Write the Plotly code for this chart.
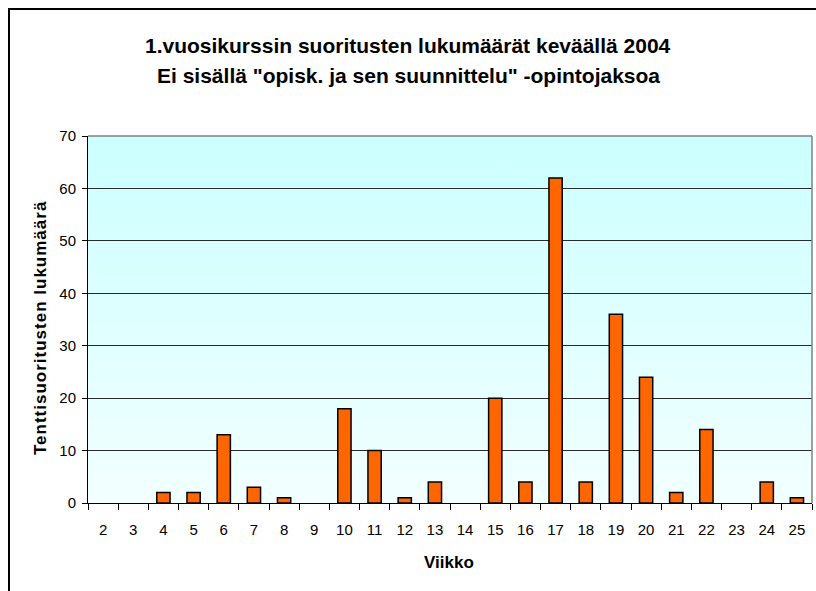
import base64
import plotly.graph_objects as go

weeks = [str(w) for w in range(2, 26)]
counts = [0, 0, 2, 2, 13, 3, 1, 0, 18, 10, 1, 4, 0, 20, 4, 62, 4, 36, 24, 2, 14, 0, 4, 1]
y_ticks = [0, 10, 20, 30, 40, 50, 60, 70]

title_line1 = "1.vuosikurssin suoritusten lukumäärät keväällä 2004"
title_line2 = "Ei sisällä \"opisk. ja sen suunnittelu\" -opintojaksoa"
x_title = "Viikko"
y_title = "Tenttisuoritusten lukumäärä"

W, H = 816, 591
L, R, T, B = 88, 4, 136, 88
pw, ph = W - L - R, H - T - B

def px_to_paper_x(px):
    return (px - L) / pw

def px_to_paper_y(py):
    return (H - B - py) / ph

svg = ('<svg xmlns="http://www.w3.org/2000/svg" width="100" height="100" preserveAspectRatio="none">'
       '<defs><linearGradient id="g" x1="0" y1="0" x2="0" y2="1">'
       '<stop offset="0" stop-color="#CCFFFF"/><stop offset="1" stop-color="#F2FFFF"/>'
       '</linearGradient></defs><rect width="100" height="100" fill="url(#g)"/></svg>')
svg_uri = "data:image/svg+xml;base64," + base64.b64encode(svg.encode()).decode()

font_family = "Liberation Sans, Arial, sans-serif"

fig = go.Figure()
fig.add_trace(go.Bar(
    x=weeks, y=counts,
    marker=dict(color="#FF6600",
                line=dict(color="#000000", width=[1.5 if v > 0 else 0 for v in counts])),
    showlegend=False,
))

fig.update_layout(
    width=W, height=H,
    margin=dict(l=L, r=R, t=T, b=B),
    paper_bgcolor="white",
    plot_bgcolor="white",
    bargap=0.56,
    font=dict(family=font_family, color="black", size=15),
    images=[dict(source=svg_uri, xref="paper", yref="paper", x=0, y=1,
                 sizex=1, sizey=1, xanchor="left", yanchor="top",
                 sizing="stretch", layer="below")],
    xaxis=dict(
        type="category", categoryorder="array", categoryarray=weeks,
        showgrid=False, showline=True, linecolor="black", linewidth=1,
        ticks="outside", ticklen=6, tickcolor="black", tickson="boundaries",
        tickfont=dict(size=15), ticklabelstandoff=13,
    ),
    yaxis=dict(
        range=[0, 70], tickvals=y_ticks, showgrid=True, gridcolor="#2a2a2a",
        gridwidth=1, zeroline=False, showline=True, linecolor="black", linewidth=1,
        ticks="outside", ticklen=5, tickcolor="black", tickfont=dict(size=15),
        ticklabelstandoff=3,
    ),
    shapes=[
        dict(type="line", xref="paper", yref="paper", x0=0, x1=1, y0=1, y1=1,
             line=dict(color="#808080", width=1.5)),
        dict(type="line", xref="paper", yref="paper", x0=1, x1=1, y0=0, y1=1,
             line=dict(color="#808080", width=1.5)),
        dict(type="rect", xref="paper", yref="paper",
             x0=px_to_paper_x(9), x1=px_to_paper_x(840),
             y0=px_to_paper_y(620), y1=px_to_paper_y(9),
             line=dict(color="black", width=2), fillcolor="rgba(0,0,0,0)"),
    ],
    annotations=[
        dict(text=title_line1, xref="paper", yref="paper",
             x=px_to_paper_x(408), y=px_to_paper_y(45), showarrow=False,
             xanchor="center", yanchor="middle",
             font=dict(size=21, family=font_family, color="black", weight="bold")),
        dict(text=title_line2, xref="paper", yref="paper",
             x=px_to_paper_x(408), y=px_to_paper_y(75), showarrow=False,
             xanchor="center", yanchor="middle",
             font=dict(size=21, family=font_family, color="black", weight="bold")),
        dict(text=x_title, xref="paper", yref="paper",
             x=px_to_paper_x(449), y=px_to_paper_y(562), showarrow=False,
             xanchor="center", yanchor="middle",
             font=dict(size=17, family=font_family, color="black", weight="bold")),
        dict(text='<span style="letter-spacing:1px">' + y_title + '</span>',
             xref="paper", yref="paper",
             x=px_to_paper_x(40), y=px_to_paper_y(328), showarrow=False,
             xanchor="center", yanchor="middle", textangle=-90,
             font=dict(size=17, family=font_family, color="black", weight="bold")),
    ],
)

fig.write_html("out.html", config={"displayModeBar": False},
               post_script="document.body.style.margin='0';")
